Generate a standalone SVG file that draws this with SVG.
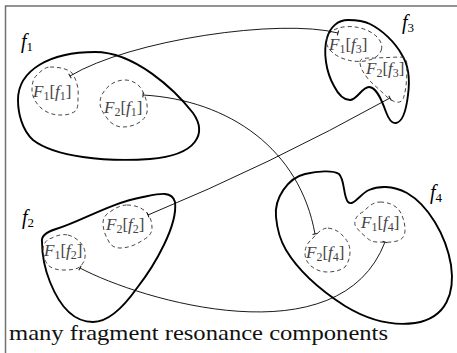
<svg xmlns="http://www.w3.org/2000/svg" width="457" height="353" viewBox="0 0 457 353">
<defs>
<style>
.frame{fill:none;stroke:#707070;stroke-width:1.5}
.blob{fill:none;stroke:#000;stroke-width:1.9;stroke-linejoin:round}
.frag{fill:none;stroke:#333;stroke-width:0.9;stroke-dasharray:4 3}
.conn{fill:none;stroke:#000;stroke-width:0.9}
.lab{font-family:"Liberation Serif",serif;font-size:20px;fill:#000}
.flab{font-family:"Liberation Serif",serif;font-size:17px;fill:#444}
.it{font-style:italic}
.cap{font-family:"Liberation Serif",serif;font-size:21px;fill:#111}
</style>
<marker id="bar" viewBox="-1 -4 2 8" markerWidth="2" markerHeight="8" refX="0" refY="0" orient="auto" markerUnits="userSpaceOnUse">
<path d="M0,-2.5 L0,2.5" stroke="#000" stroke-width="0.9"/>
</marker>
</defs>
<path class="frame" d="M5.5,353 L5.5,6 L457,6"/>

<g id="f1">
<path class="blob" d="M18,100 C18,70 50,52 95,52 C135,52 175,90 193,113 C207,133 198,155 150,159 C105,162 55,157 33,140 C22,130 18,113 18,100 Z"/>
<text class="lab" x="21" y="48"><tspan class="it">f</tspan><tspan font-size="13" dy="3">1</tspan></text>
</g>
<g id="F1f1">
<path class="frag" d="M50,67 C60,67 68,69 72,73 C77,80 79,90 78,97 C78,105 78,110 74,112 C69,115 64,115 60,115 C52,115 45,112 40,107 C35,102 32,96 32,90 C32,84 33,78 37,75 C41,71 45,67 50,67 Z"/>
<text class="flab" x="33" y="97"><tspan class="it">F</tspan><tspan font-size="12" dy="3">1</tspan><tspan dy="-3">[</tspan><tspan class="it">f</tspan><tspan font-size="12" dy="3">1</tspan><tspan dy="-3">]</tspan></text>
</g>
<g id="F2f1">
<path class="frag" d="M125,80 C132,80 139,84 142,90 C146,97 148,105 147,112 C146,120 135,127 123,127 C116,127 110,123 107,118 C103,113 100,108 100,103 C100,96 104,90 110,85 C114,82 119,80 125,80 Z"/>
<text class="flab" x="104" y="113"><tspan class="it">F</tspan><tspan font-size="12" dy="3">2</tspan><tspan dy="-3">[</tspan><tspan class="it">f</tspan><tspan font-size="12" dy="3">1</tspan><tspan dy="-3">]</tspan></text>
</g>

<g id="f2">
<path class="blob" d="M42,242 C41,236 46,232 56,229 C80,222 110,203 143,197 C158,194 172,190 175,202 C178,225 155,265 137,288 C125,305 110,322 93,322 C77,322 62,312 50,282 C44,267 42,255 42,242 Z"/>
<text class="lab" x="22" y="224"><tspan class="it">f</tspan><tspan font-size="13" dy="3">2</tspan></text>
</g>
<g id="F1f2">
<path class="frag" d="M68,235 C76,237 84,244 85,252 C86,259 83,265 78,268 C73,270 68,270 63,270 C56,270 51,268 48,265 C44,260 43,254 43,248 C44,243 47,239 52,238 C57,235 63,234 68,235 Z"/>
<text class="flab" x="44" y="256"><tspan class="it">F</tspan><tspan font-size="12" dy="3">1</tspan><tspan dy="-3">[</tspan><tspan class="it">f</tspan><tspan font-size="12" dy="3">2</tspan><tspan dy="-3">]</tspan></text>
</g>
<g id="F2f2">
<path class="frag" d="M127,205 C135,205 143,208 147,213 C151,218 152,223 152,228 C152,233 149,237 143,240 C136,245 128,248 120,248 C114,248 110,245 108,240 C105,235 103,229 103,223 C103,218 106,214 110,212 C115,208 121,205 127,205 Z"/>
<text class="flab" x="106" y="230"><tspan class="it">F</tspan><tspan font-size="12" dy="3">2</tspan><tspan dy="-3">[</tspan><tspan class="it">f</tspan><tspan font-size="12" dy="3">2</tspan><tspan dy="-3">]</tspan></text>
</g>

<g id="f3">
<path class="blob" d="M348,20 C338,20 330,27 327,38 C323,52 326,72 334,86 C339,96 344,100 350,100 C357,100 362,87 369,87 C376,87 381,98 386,112 C389,120 392,124 396,123 C402,122 406,112 408,95 C410,80 409,66 402,55 C395,42 382,30 370,24 C362,20 355,20 348,20 Z"/>
<text class="lab" x="402" y="29"><tspan class="it">f</tspan><tspan font-size="13" dy="3">3</tspan></text>
</g>
<g id="F1f3">
<ellipse class="frag" cx="354" cy="44" rx="28" ry="17" transform="rotate(10 354 44)"/>
<text class="flab" x="329" y="50"><tspan class="it">F</tspan><tspan font-size="12" dy="3">1</tspan><tspan dy="-3">[</tspan><tspan class="it">f</tspan><tspan font-size="12" dy="3">3</tspan><tspan dy="-3">]</tspan></text>
</g>
<g id="F2f3">
<path class="frag" d="M360,62 C360,58 365,58 375,58 L400,57 C405,57 407,60 407,66 C407,78 406,90 404,96 C403,101 400,103 396,102 C392,101 389,99 386,96 C380,90 374,85 369,80 C364,74 360,68 360,62 Z"/>
<text class="flab" x="366" y="74"><tspan class="it">F</tspan><tspan font-size="12" dy="3">2</tspan><tspan dy="-3">[</tspan><tspan class="it">f</tspan><tspan font-size="12" dy="3">3</tspan><tspan dy="-3">]</tspan></text>
</g>

<g id="f4">
<path class="blob" d="M276,217 C274,198 288,178 305,174 C318,171 333,170 339,174 C345,180 343,196 348,202 C353,207 360,194 369,190 C378,186 392,185 407,193 C428,205 446,235 451,265 C455,292 447,318 415,323 C393,326 368,320 345,306 C320,290 298,270 286,250 C280,240 277,228 276,217 Z"/>
<text class="lab" x="430" y="199"><tspan class="it">f</tspan><tspan font-size="13" dy="3">4</tspan></text>
</g>
<g id="F1f4">
<path class="frag" d="M380,202 C388,202 395,205 399,210 C403,216 405,223 405,230 C405,236 402,240 397,241 C390,243 383,242 377,242 C372,242 369,240 366,237 C361,233 357,229 355,225 C354,219 358,214 363,212 C368,207 373,202 380,202 Z"/>
<text class="flab" x="361" y="228"><tspan class="it">F</tspan><tspan font-size="12" dy="3">1</tspan><tspan dy="-3">[</tspan><tspan class="it">f</tspan><tspan font-size="12" dy="3">4</tspan><tspan dy="-3">]</tspan></text>
</g>
<g id="F2f4">
<path class="frag" d="M328,228 C335,229 340,232 343,236 C348,241 350,246 350,252 C350,258 348,263 345,267 C340,271 333,272 327,272 C320,272 314,269 310,265 C306,261 305,257 305,253 C305,247 308,242 313,238 C318,232 323,228 328,228 Z"/>
<text class="flab" x="306" y="258"><tspan class="it">F</tspan><tspan font-size="12" dy="3">2</tspan><tspan dy="-3">[</tspan><tspan class="it">f</tspan><tspan font-size="12" dy="3">4</tspan><tspan dy="-3">]</tspan></text>
</g>

<g id="connectors">
<path class="conn" marker-start="url(#bar)" marker-end="url(#bar)" d="M70,76 C130,40 280,18 338,33"/>
<path class="conn" marker-start="url(#bar)" marker-end="url(#bar)" d="M143,95 C230,100 300,150 315,234"/>
<path class="conn" marker-start="url(#bar)" marker-end="url(#bar)" d="M148,215 Q269,165 390,98"/>
<path class="conn" marker-start="url(#bar)" marker-end="url(#bar)" d="M80,268 C140,300 340,360 385,242"/>
</g>

<text class="cap" x="9" y="340" textLength="379" lengthAdjust="spacingAndGlyphs">many fragment resonance components</text>
</svg>
